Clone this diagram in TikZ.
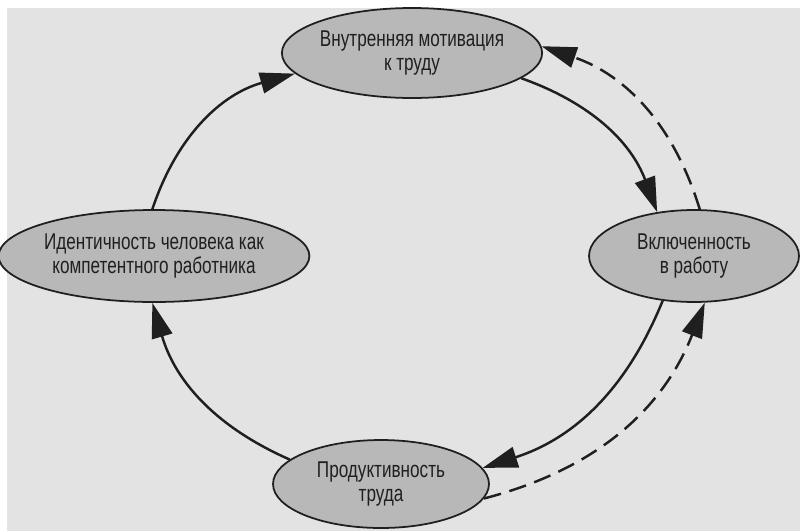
\documentclass[tikz,border=0pt]{standalone}
\usepackage{fontspec}
\setmainfont{Liberation Sans}[FakeStretch=0.75]
\usetikzlibrary{arrows.meta,shapes.geometric}

\definecolor{scangray}{gray}{0.89}
\definecolor{ovalgray}{gray}{0.72}
\definecolor{inkgray}{gray}{0.12}

\tikzset{
  stage/.style={
    shape = ellipse,
    draw = inkgray,
    fill = ovalgray,
    line width = 1pt,
    inner sep = 0pt,
    align = center,
    text = inkgray,
    font = \fontsize{13}{13.5}\selectfont
  },
  flow/.style={
    draw = inkgray,
    line width = 1.4pt,
    -{Triangle[length=7mm,width=4.2mm]}
  },
  backflow/.style={
    flow,
    dash pattern = on 10pt off 5pt
  },
}

\begin{document}
\begin{tikzpicture}[x=0.02cm, y=-0.02cm]
        \fill[white] (0,0) rectangle (800,531);
        \fill[scangray] (7,8) rectangle (800,531);
        \useasboundingbox (0,0) rectangle (800,531);

        \node[stage, minimum width=4.4cm, minimum height=1.8cm] (motiv) at (412,53) {Внутренняя мотивация\\к труду};
        \node[stage, minimum width=4.2cm, minimum height=1.84cm] (engage) at (694,256) {Включенность\\в работу};
        \node[stage, minimum width=4.32cm, minimum height=1.76cm] (output) at (381,484) {Продуктивность\\труда};
        \node[stage, minimum width=5.76cm, minimum height=1.84cm] (ident) at (154,256) {Идентичность человека как\\компетентного работника};

        % main cycle
        \draw[flow] (motiv.-13) to[bend left=25] (engage.130);
        \draw[flow] (engage.235) to[bend left=25] (output.9);
        \draw[flow] (output.165) to[bend left=25] (ident.268);
        \draw[flow] (ident.92) to[bend left=28] (motiv.190);

        % feedback
        \draw[backflow] (engage.83) to[bend right=27] (motiv.3);
        \draw[backflow] (output.-8) to[bend right=27] (engage.283);
\end{tikzpicture}
\end{document}
